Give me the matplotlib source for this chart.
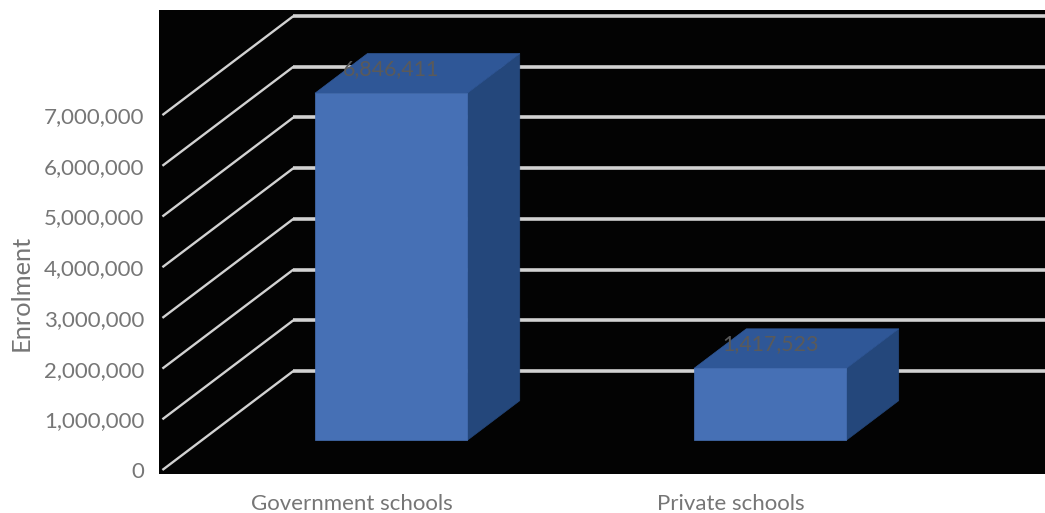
import matplotlib
matplotlib.use('Agg')
import matplotlib.pyplot as plt
import numpy as np

categories = ['Government schools', 'Private schools']
enrolment = [6846411, 1417523]
grid_values = [0, 1000000, 2000000, 3000000, 4000000, 5000000, 6000000, 7000000]
y_label = 'Enrolment'

# fake 3D: a point at depth d (0 = front of floor, 1 = back wall) gets shifted
depth_dx = 0.3456
depth_dy = 1953000
bar_width = 0.402
bar_d0 = 0.3
bar_d1 = 0.7
floor_left = -0.5

front_color = '#4670b5'
top_color = '#2f5797'
side_color = '#24477b'
grid_color = '#d2d2d2'
text_color = '#767676'
label_color = '#5a5a5a'


def project(x, value, d):
    return x + d * depth_dx, value + d * depth_dy


def draw_bar(ax, x, value):
    x0 = x - bar_width / 2
    x1 = x + bar_width / 2

    corners = {
        'flb': project(x0, 0, bar_d0), 'frb': project(x1, 0, bar_d0),
        'flt': project(x0, value, bar_d0), 'frt': project(x1, value, bar_d0),
        'brb': project(x1, 0, bar_d1), 'brt': project(x1, value, bar_d1),
        'blt': project(x0, value, bar_d1),
    }

    faces = [(['frb', 'brb', 'brt', 'frt'], side_color),
             (['flt', 'frt', 'brt', 'blt'], top_color),
             (['flb', 'frb', 'frt', 'flt'], front_color)]
    for names, color in faces:
        xs = [corners[n][0] for n in names]
        ys = [corners[n][1] for n in names]
        ax.fill(xs, ys, color=color, linewidth=0.5, zorder=3)

    # value label sits just above the front top edge
    cx = x + bar_d0 * depth_dx
    ax.annotate(f'{value:,}', xy=(cx, project(x, value, bar_d0)[1]),
                xytext=(0, 17.3), textcoords='offset points',
                ha='center', va='center', fontsize=15.4, color=label_color,
                zorder=4)


plt.rcParams['font.family'] = ['Lato', 'DejaVu Sans']

fig = plt.figure(figsize=(10.45, 5.13), dpi=100)
ax = fig.add_axes([159 / 1045, 39 / 513, 886 / 1045, 464 / 513])
ax.set_facecolor('#030303')

xmin, xmax = -0.509, 1.829
ax.set_xlim(xmin, xmax)
ax.set_ylim(-79000, 9073000)

positions = np.arange(len(categories))

# gridlines run up the side wall, then along the back wall
for v in grid_values:
    x_back, y_back = project(floor_left, v, 1)
    ax.plot([floor_left, x_back], [v, y_back], color=grid_color, lw=1.7,
            zorder=1, solid_capstyle='butt')
    ax.plot([x_back, xmax], [y_back, y_back], color=grid_color, lw=2.6,
            zorder=1, solid_capstyle='butt')

for x, value in zip(positions, enrolment):
    draw_bar(ax, x, value)

ax.set_xticks(positions)
ax.set_xticklabels(categories)
ax.set_yticks(grid_values)
ax.set_yticklabels([f'{v:,}' for v in grid_values])
ax.tick_params(axis='both', length=0, labelsize=16, labelcolor=text_color)
ax.tick_params(axis='y', pad=10.5)
ax.tick_params(axis='x', pad=14.5)

ax.set_ylabel(y_label, fontsize=18.3, color=text_color)
ax.yaxis.set_label_coords(-126 / 886, (474 - 293) / 464)

for spine in ax.spines.values():
    spine.set_visible(False)

fig.savefig('out.png', dpi=100, facecolor='white')
